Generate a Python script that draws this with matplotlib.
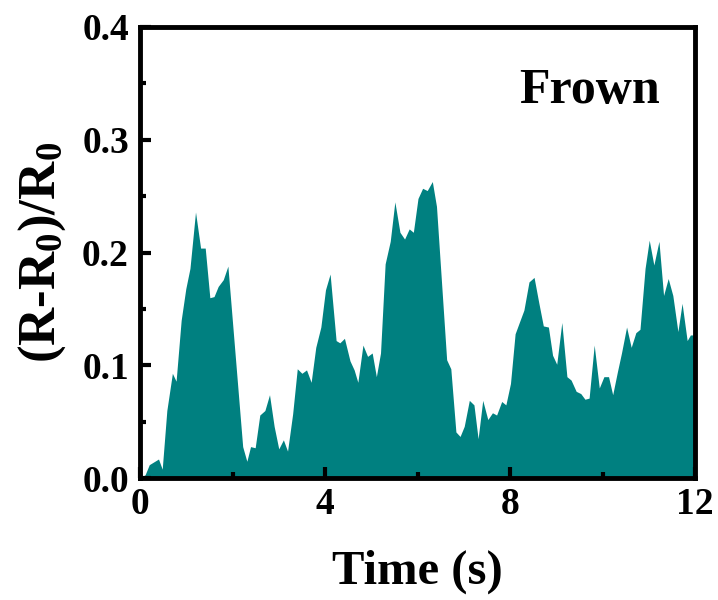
import matplotlib
matplotlib.use("Agg")
import matplotlib.pyplot as plt
from matplotlib.ticker import MultipleLocator

# Resistance change during frowning
time_s = [0.00, 0.11, 0.20, 0.40, 0.48, 0.58, 0.70, 0.78, 0.89, 0.99,
          1.08, 1.20, 1.31, 1.41, 1.51, 1.60, 1.69, 1.80, 1.90, 2.22,
          2.31, 2.39, 2.49, 2.59, 2.70, 2.80, 2.90, 3.00, 3.10, 3.19,
          3.30, 3.40, 3.50, 3.60, 3.70, 3.80, 3.91, 4.01, 4.11, 4.24,
          4.32, 4.42, 4.54, 4.63, 4.71, 4.82, 4.92, 5.02, 5.11, 5.20,
          5.30, 5.41, 5.51, 5.62, 5.72, 5.82, 5.91, 6.01, 6.11, 6.21,
          6.32, 6.41, 6.63, 6.72, 6.83, 6.92, 7.01, 7.12, 7.22, 7.31,
          7.41, 7.52, 7.62, 7.71, 7.82, 7.91, 8.01, 8.11, 8.20, 8.30,
          8.41, 8.52, 8.62, 8.72, 8.83, 8.92, 9.01, 9.12, 9.23, 9.32,
          9.43, 9.53, 9.62, 9.71, 9.82, 9.93, 10.03, 10.13, 10.22, 10.32,
          10.41, 10.52, 10.62, 10.72, 10.81, 10.92, 11.01, 11.11, 11.22, 11.32,
          11.42, 11.52, 11.63, 11.72, 11.83, 11.90, 12.00]
delta_r = [0.000, 0.003, 0.012, 0.017, 0.008, 0.060, 0.093, 0.086, 0.140, 0.168,
           0.186, 0.236, 0.204, 0.204, 0.160, 0.161, 0.170, 0.176, 0.188, 0.028,
           0.015, 0.028, 0.027, 0.056, 0.060, 0.074, 0.046, 0.026, 0.034, 0.024,
           0.057, 0.097, 0.093, 0.096, 0.085, 0.116, 0.134, 0.167, 0.181, 0.122,
           0.120, 0.124, 0.104, 0.096, 0.085, 0.118, 0.108, 0.111, 0.090, 0.111,
           0.190, 0.210, 0.245, 0.218, 0.212, 0.221, 0.218, 0.248, 0.257, 0.255,
           0.263, 0.241, 0.105, 0.097, 0.041, 0.037, 0.046, 0.069, 0.065, 0.035,
           0.069, 0.052, 0.058, 0.056, 0.068, 0.065, 0.084, 0.128, 0.138, 0.149,
           0.174, 0.178, 0.156, 0.135, 0.134, 0.109, 0.101, 0.138, 0.090, 0.087,
           0.077, 0.075, 0.070, 0.071, 0.118, 0.080, 0.090, 0.090, 0.074, 0.094,
           0.111, 0.134, 0.116, 0.129, 0.132, 0.186, 0.211, 0.189, 0.210, 0.162,
           0.177, 0.162, 0.130, 0.155, 0.122, 0.127, 0.127]

fill_color = "#008080"
font = "Liberation Serif"

plt.rcParams["font.family"] = font
plt.rcParams["font.weight"] = "bold"
plt.rcParams["mathtext.fontset"] = "custom"
plt.rcParams["mathtext.rm"] = font + ":bold"
plt.rcParams["mathtext.bf"] = font + ":bold"
plt.rcParams["mathtext.it"] = font + ":bold"

fig = plt.figure(figsize=(7.18, 6.0), dpi=100)
ax = fig.add_axes([0.195, 0.203, 0.773, 0.752])

ax.fill_between(time_s, delta_r, 0, color=fill_color, linewidth=0)

ax.set_xlim(0, 12)
ax.set_ylim(0, 0.4)
ax.xaxis.set_major_locator(MultipleLocator(4))
ax.xaxis.set_minor_locator(MultipleLocator(2))
ax.yaxis.set_major_locator(MultipleLocator(0.1))
ax.yaxis.set_minor_locator(MultipleLocator(0.05))
ax.yaxis.set_major_formatter(plt.FuncFormatter(lambda v, p: f"{v:.1f}"))

for s in ax.spines.values():
    s.set_linewidth(3.5)
ax.tick_params(which="major", direction="in", length=8, width=3, labelsize=27, pad=8)
ax.tick_params(axis="x", which="major", pad=6)
ax.tick_params(which="minor", direction="in", length=4, width=3)
for lab in ax.get_xticklabels() + ax.get_yticklabels():
    lab.set_fontweight("bold")

ax.set_xlabel("Time (s)", fontsize=35, fontweight="bold", labelpad=20)
ax.set_ylabel(r"(R-R$_\mathrm{0}$)/R$_\mathrm{0}$", fontsize=38, fontweight="bold", labelpad=10)
ax.text(0.937, 0.831, "Frown", transform=ax.transAxes, ha="right", va="baseline",
        fontsize=36, fontweight="bold")

fig.savefig("out.png", dpi=100)
